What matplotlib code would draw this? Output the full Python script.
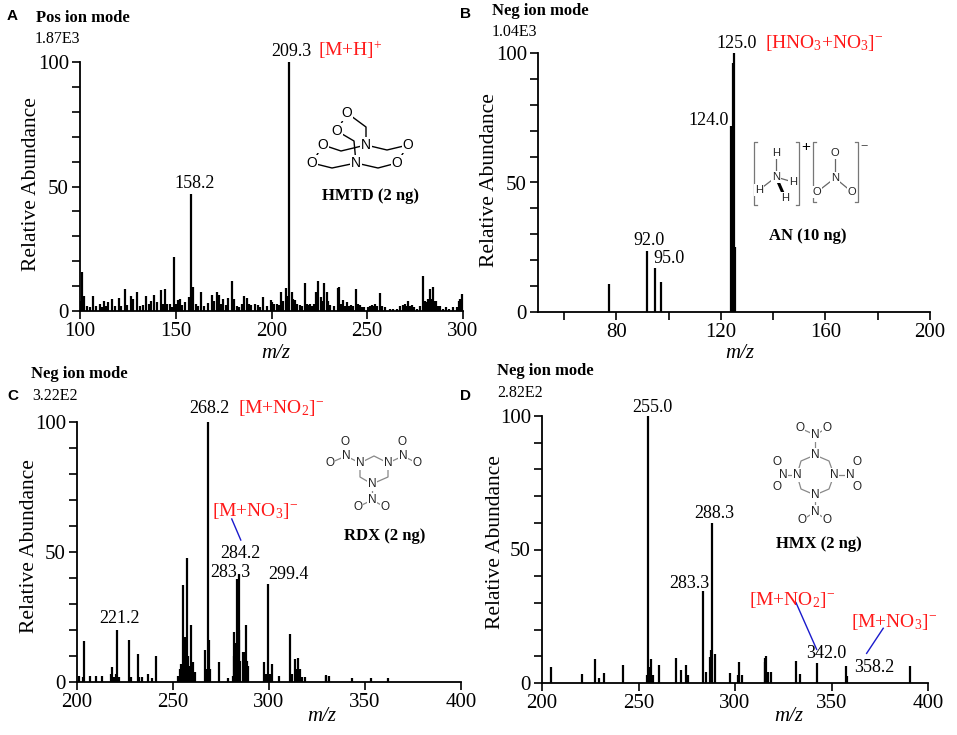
import matplotlib
matplotlib.use("Agg")
import matplotlib.pyplot as plt

plt.rcParams['font.family'] = ['Liberation Serif', 'DejaVu Serif']
plt.rcParams['mathtext.fontset'] = 'custom'
plt.rcParams['mathtext.rm'] = 'Liberation Serif'
plt.rcParams['mathtext.it'] = 'Liberation Serif:italic'
plt.rcParams['mathtext.bf'] = 'Liberation Serif:bold'

# ---- spectra (m/z, relative abundance) ----
hmtd_mz = [100.5, 101.2, 102.0, 103.5, 105.0, 107.0, 108.5, 110.4, 111.5, 112.5, 113.5, 114.7,
           116.8, 118.5, 120.3, 121.5, 123.4, 124.5, 126.7, 127.8, 129.8, 131.5, 133.0, 134.7,
           136.0, 137.1, 138.8, 140.2, 142.4, 143.5, 144.5, 145.5, 146.8, 148.0, 149.3, 150.2,
           151.0, 152.0, 153.5, 154.7, 156.8, 158.2, 159.2, 160.5, 161.5, 163.2, 165.0, 167.0,
           169.1, 170.2, 171.4, 172.6, 173.5, 174.5, 176.0, 177.5, 179.2, 180.6, 182.0, 183.0,
           184.5, 185.8, 187.0, 188.0, 189.3, 191.4, 192.7, 194.0, 195.7, 197.5, 199.7, 200.5,
           201.5, 202.8, 204.0, 205.0, 206.0, 207.4, 208.3, 209.3, 210.5, 211.3, 212.2, 213.5,
           214.9, 216.0, 217.3, 218.5, 219.2, 220.1, 221.0, 222.0, 223.2, 224.4, 225.6, 226.5,
           227.4, 228.8, 229.7, 230.5, 232.5, 234.5, 235.4, 236.2, 237.2, 238.2, 239.3, 240.5,
           241.5, 242.8, 244.1, 245.0, 246.2, 247.5, 248.5, 250.5, 251.5, 252.4, 253.2, 254.1,
           255.0, 256.7, 257.8, 259.3, 261.9, 263.5, 265.4, 267.0, 268.5, 269.7, 270.5, 271.5,
           272.3, 273.2, 274.5, 275.8, 277.5, 279.3, 280.0, 280.7, 281.5, 282.8, 283.5, 284.5,
           285.1, 285.9, 287.0, 288.0, 289.5, 291.2, 292.5, 294.6, 296.7, 298.0, 298.5, 299.5]
hmtd_ab = [4, 15.8, 6, 2, 1.5, 6.2, 2, 3, 1.5, 4, 2, 3.7,
           4.7, 2, 5.4, 2, 8.7, 2.5, 6, 4.7, 7.5, 2, 2.5, 6,
           3, 4, 6.4, 3.7, 8.4, 3, 8.7, 3, 3, 1.5, 21.5, 3,
           4.4, 4.7, 2.5, 3.7, 5.5, 47, 9.8, 3, 2, 7.8, 2, 3.3,
           6.4, 4, 7.5, 6.4, 3, 4.7, 2.5, 5.4, 12.2, 4.7, 2, 1.7,
           3, 6, 5.4, 3, 2.4, 2.7, 2.4, 1.5, 5.8, 2, 4.4, 3.7,
           3, 3, 2.5, 7.8, 4, 9.4, 6, 100, 7.8, 5, 4.4, 3,
           2.5, 2, 11.4, 3, 2.5, 3, 2, 3, 7.8, 12.2, 5.8, 4,
           11.4, 7.8, 4, 2.5, 2, 9.1, 9.5, 3, 4.4, 2, 3.7, 2,
           2.5, 2, 8.7, 3, 2.5, 1.5, 1.5, 1.5, 2, 2.5, 2, 2.7,
           2, 7.4, 2, 1.5, 1, 1, 1, 2, 2.5, 3, 2, 4,
           2, 2.5, 1.5, 1, 2, 14.2, 4, 3.7, 5, 8.7, 5, 9.8,
           4, 4, 2, 2, 1, 1.5, 1, 1.5, 1.5, 4, 5, 6.8]

an_mz = [77.2, 91.8, 94.8, 97.0, 123.8, 124.2, 124.6, 125.0, 125.3]
an_ab = [10.8, 23.7, 16.9, 11.5, 72, 70, 96, 100, 25]

rdx_mz = [201.1, 203.2, 203.8, 206.8, 209.9, 212.8, 217.5, 218.0, 219.2, 220.2, 221.0, 222.0,
          227.1, 228.0, 231.6, 232.5, 233.7, 236.8, 238.9, 241.2, 252.8, 253.5, 254.0, 255.0,
          256.0, 256.5, 257.2, 258.0, 258.6, 259.3, 259.8, 260.3, 261.2, 266.8, 267.5, 268.2,
          269.0, 269.5, 274.0, 278.9, 281.0, 281.6, 282.0, 282.6, 283.3, 284.2, 284.6, 285.0,
          286.2, 287.3, 288.1, 288.6, 289.0, 297.2, 298.5, 299.4, 300.5, 301.6, 305.1, 311.1,
          312.0, 313.4, 314.5, 315.1, 316.0, 317.2, 319.0, 329.5, 329.9, 331.1, 343.2, 353.1,
          361.9]
rdx_ab = [2.2, 2, 15.6, 2.2, 2.4, 2.4, 3, 5.8, 2, 3, 20.1, 2,
          16.3, 2, 10.9, 2, 2, 3.2, 1.5, 9.9, 2.5, 5, 6.8, 37.2,
          17.3, 10, 47.8, 10, 6, 21.8, 6, 7.7, 4, 12.2, 5, 100,
          16, 5, 7.7, 1.5, 2.5, 10, 19.2, 15, 39.7, 41.7, 20, 8,
          11.5, 11.5, 21.8, 8, 6, 7.7, 3, 37.6, 3, 6.8, 2.5, 18.6,
          3, 8.7, 5, 9.2, 5, 2, 2, 2.2, 2.8, 2.2, 1.5, 1.6,
          1.5]

hmx_mz = [204.5, 220.9, 227.5, 229.5, 232.3, 241.8, 254.5, 255.0, 256.0, 256.6, 257.4, 260.7,
          269.5, 272.0, 274.7, 275.6, 283.3, 284.9, 286.8, 287.7, 288.3, 289.5, 297.3, 301.6,
          302.2, 303.4, 315.4, 315.8, 316.3, 317.2, 318.4, 331.4, 333.6, 342.3, 357.4, 358.2,
          390.7]
hmx_ab = [6, 3.2, 9.1, 2, 3.9, 6.6, 3, 100, 6, 9.1, 3, 6.6,
          9.4, 4.7, 6.9, 3, 34.3, 4, 9.7, 12.2, 60, 11, 3.7, 3,
          7.9, 3, 8, 9.4, 10.1, 4, 4, 8.1, 3.5, 7.5, 6.2, 2.5,
          6.4]

W, H = 957, 735
fig = plt.figure(figsize=(W / 100, H / 100), dpi=100)


def px_rect(l, t, r, b):
    return [l / W, 1 - b / H, (r - l) / W, (b - t) / H]


def spectrum(rect, mz, ab, xlim, xticks, xlabels):
    ax = fig.add_axes(px_rect(*rect))
    ax.vlines(mz, 0, ab, color='black', lw=1.6, clip_on=False)
    ax.set_xlim(xlim)
    ax.set_ylim(0, 100)
    ax.spines['top'].set_visible(False)
    ax.spines['right'].set_visible(False)
    ax.spines['left'].set_linewidth(1.3)
    ax.spines['bottom'].set_linewidth(1.3)
    yt = list(range(0, 101, 10))
    ax.set_yticks(yt)
    ax.set_yticklabels([str(v) if v in (0, 50, 100) else '' for v in yt])
    ax.set_xticks(xticks)
    ax.set_xticklabels(xlabels)
    ax.tick_params(direction='out', length=6, width=1.2, labelsize=15, pad=2)
    return ax


axA = spectrum((80, 62, 463, 311), hmtd_mz, hmtd_ab, (100, 300),
               [100, 150, 200, 250, 300], ['100', '150', '200', '250', '300'])
axB = spectrum((538, 53, 930, 312), an_mz, an_ab, (50, 200),
               [60, 80, 100, 120, 140, 160, 180, 200],
               ['', '80', '', '120', '', '160', '', '200'])
axC = spectrum((77, 422, 461, 682), rdx_mz, rdx_ab, (200, 400),
               [200, 250, 300, 350, 400], ['200', '250', '300', '350', '400'])
axD = spectrum((542, 416, 928, 683), hmx_mz, hmx_ab, (200, 400),
               [200, 250, 300, 350, 400], ['200', '250', '300', '350', '400'])

RED = '#ff1a1a'
BLUE = '#1a1acc'


def plab(ax, x, y, s, ha='center', color='black', size=13):
    ax.text(x, y, s, ha=ha, va='baseline', color=color, fontsize=size, clip_on=False)


# peak labels
plab(axA, 210.4, 102.4, '209.3')
plab(axA, 224.3, 102.4, '[M+H]$^{+}$', ha='left', color=RED, size=14)
plab(axA, 159.8, 49.3, '158.2')

plab(axB, 126.0, 102, '125.0')
plab(axB, 136.9, 102, '[HNO$_{3}$+NO$_{3}$]$^{-}$', ha='left', color=RED, size=14)
plab(axB, 123.1, 72.2, '124.0', ha='right')
plab(axB, 92.3, 25.9, '92.0')
plab(axB, 100.3, 19.0, '95.0')

plab(axC, 269.0, 103.5, '268.2')
plab(axC, 283.9, 103.5, '[M+NO$_{2}$]$^{-}$', ha='left', color=RED, size=14)
plab(axC, 270.3, 64, '[M+NO$_{3}$]$^{-}$', ha='left', color=RED, size=14)
axC.plot([280.6, 285.3], [62.7, 54.6], color=BLUE, lw=1, clip_on=False)
plab(axC, 284.9, 47.7, '284.2')
plab(axC, 279.7, 40.4, '283.3')
plab(axC, 309.9, 39.6, '299.4')
plab(axC, 221.9, 22.7, '221.2')

plab(axD, 257.0, 101.5, '255.0')
plab(axD, 289.4, 61.8, '288.3')
plab(axD, 276.2, 35.6, '283.3')
plab(axD, 329.8, 29.2, '[M+NO$_{2}$]$^{-}$', color=RED, size=14)
axD.plot([331.6, 342.3], [30.1, 12.6], color=BLUE, lw=1, clip_on=False)
plab(axD, 347.2, 9.4, '342.0')
plab(axD, 382.4, 21.1, '[M+NO$_{3}$]$^{-}$', color=RED, size=14)
axD.plot([376.8, 368.2], [20.5, 11.1], color=BLUE, lw=1, clip_on=False)
plab(axD, 372.0, 4.2, '358.2')

# overlay in pixel coordinates for panel text and structures
ov = fig.add_axes([0, 0, 1, 1])
ov.set_xlim(0, W)
ov.set_ylim(H, 0)
ov.axis('off')


def t(x, y, s, **kw):
    kw.setdefault('va', 'baseline')
    ov.text(x, y, s, **kw)


sans = ['Liberation Sans', 'DejaVu Sans']
for x, y, s in [(7, 20, 'A'), (460, 18, 'B'), (7, 400, 'C'), (460, 400, 'D')]:
    t(x, y, s, family=sans, fontweight='bold', fontsize=11)

for x, y, s in [(36, 22, 'Pos ion mode'), (492, 15, 'Neg ion mode'),
                (31, 378, 'Neg ion mode'), (497, 375, 'Neg ion mode')]:
    t(x, y, s, fontweight='bold', fontsize=12)
for x, y, s in [(35, 43, '1.87E3'), (492, 36, '1.04E3'), (32, 400, '3.22E2'), (497, 397, '2.82E2')]:
    t(x, y, s, fontsize=11.5)

for x, y, s in [(371, 200, 'HMTD (2 ng)'), (808, 240, 'AN (10 ng)'),
                (385, 540, 'RDX (2 ng)'), (819, 548, 'HMX (2 ng)')]:
    t(x, y, s, fontweight='bold', fontsize=12, ha='center')

for x, y in [(276, 358), (740, 358), (322, 721), (789, 721)]:
    t(x, y, 'm/z', fontstyle='italic', fontsize=15, ha='center')
for x, y in [(32, 184), (490, 180), (30, 546), (495, 542)]:
    ov.text(x, y, 'Relative Abundance', rotation=90, fontsize=15.5, ha='center', va='center')


def molecule(atoms, bonds, fsize, acolor, bcolor, lw):
    def pt(p):
        return atoms[p][:2] if isinstance(p, str) else p
    for b in bonds:
        xs = [pt(p)[0] for p in b]
        ys = [pt(p)[1] for p in b]
        ov.plot(xs, ys, color=bcolor, lw=lw, solid_capstyle='butt')
    for x, y, lab in atoms.values():
        ov.text(x, y, lab, family=sans, fontsize=fsize, color=acolor, ha='center', va='center',
                bbox=dict(boxstyle='square,pad=0.08', fc='white', ec='none'))


# HMTD
molecule({'O1': (347, 113, 'O'), 'O2': (337, 131, 'O'), 'O3': (323, 145, 'O'),
          'O4': (408, 145, 'O'), 'O5': (312, 163, 'O'), 'O6': (397, 163, 'O'),
          'N1': (366, 145, 'N'), 'N2': (356, 163, 'N')},
         [['O1', 'O2'], ['O1', (366, 127), 'N1'], ['O2', (354, 141), 'N2'],
          ['O3', (341, 151), 'N1'], ['N1', (387, 150), 'O4'], ['O4', 'O6'], ['O3', 'O5'],
          ['O5', (332, 168), 'N2'], ['N2', (378, 168), 'O6']],
         10, 'black', 'black', 1.0)

# ammonium nitrate
ov.plot([776, 783], [177, 193], color='black', lw=2.2)  # wedge bond
molecule({'H1': (776, 153, 'H'), 'Na': (776, 177, 'N'), 'H2': (759, 190, 'H'),
          'H3': (793, 182, 'H'), 'H4': (785, 198, 'H'),
          'Ot': (835, 153, 'O'), 'Nb': (835, 178, 'N'), 'Ol': (817, 192, 'O'), 'Or': (852, 192, 'O')},
         [['H1', 'Na'], ['Na', 'H2'], ['Na', 'H3'], ['Ot', 'Nb'], ['Nb', 'Ol'], ['Nb', 'Or']],
         8, '#222222', '#666666', 0.9)
for br in [[(757, 142), (754, 142), (754, 205), (757, 205)], [(796, 142), (799, 142), (799, 205), (796, 205)],
           [(816, 142), (813, 142), (813, 202), (816, 202)], [(855, 142), (858, 142), (858, 202), (855, 202)]]:
    ov.plot([p[0] for p in br], [p[1] for p in br], color='#777777', lw=0.9)
t(806, 151, '+', family=sans, fontsize=11, ha='center')
t(864, 150, '\u2212', family=sans, fontsize=9, ha='center', color='#555555')

# RDX
molecule({'N1': (360, 463, 'N'), 'N2': (388, 463, 'N'), 'N3': (372, 484, 'N'),
          'Na': (346, 456, 'N'), 'Oa1': (345, 442, 'O'), 'Oa2': (330, 463, 'O'),
          'Nb': (403, 456, 'N'), 'Ob1': (402, 442, 'O'), 'Ob2': (417, 463, 'O'),
          'Nc': (372, 500, 'N'), 'Oc1': (358, 507, 'O'), 'Oc2': (385, 507, 'O')},
         [['N1', (374, 456), 'N2'], ['N2', (388, 477), 'N3'], ['N3', (360, 477), 'N1'],
          ['N1', 'Na'], ['Na', 'Oa1'], ['Na', 'Oa2'], ['N2', 'Nb'], ['Nb', 'Ob1'], ['Nb', 'Ob2'],
          ['N3', 'Nc'], ['Nc', 'Oc1'], ['Nc', 'Oc2']],
         8.5, '#222222', '#888888', 0.9)

# HMX
molecule({'Nt': (815, 455, 'N'), 'Nl': (797, 475, 'N'), 'Nr': (834, 475, 'N'), 'Nm': (815, 495, 'N'),
          'Na': (815, 435, 'N'), 'Oa1': (800, 428, 'O'), 'Oa2': (827, 428, 'O'),
          'Nb': (783, 475, 'N'), 'Ob1': (777, 462, 'O'), 'Ob2': (777, 487, 'O'),
          'Nc': (850, 475, 'N'), 'Oc1': (857, 462, 'O'), 'Oc2': (857, 487, 'O'),
          'Nd': (815, 512, 'N'), 'Od1': (802, 520, 'O'), 'Od2': (827, 520, 'O')},
         [['Nt', (801, 461), 'Nl'], ['Nl', (801, 489), 'Nm'], ['Nm', (829, 489), 'Nr'],
          ['Nr', (829, 461), 'Nt'],
          ['Nt', 'Na'], ['Na', 'Oa1'], ['Na', 'Oa2'], ['Nl', 'Nb'], ['Nb', 'Ob1'], ['Nb', 'Ob2'],
          ['Nr', 'Nc'], ['Nc', 'Oc1'], ['Nc', 'Oc2'], ['Nm', 'Nd'], ['Nd', 'Od1'], ['Nd', 'Od2']],
         8.5, '#222222', '#888888', 0.9)

fig.savefig('out.png', dpi=100)
